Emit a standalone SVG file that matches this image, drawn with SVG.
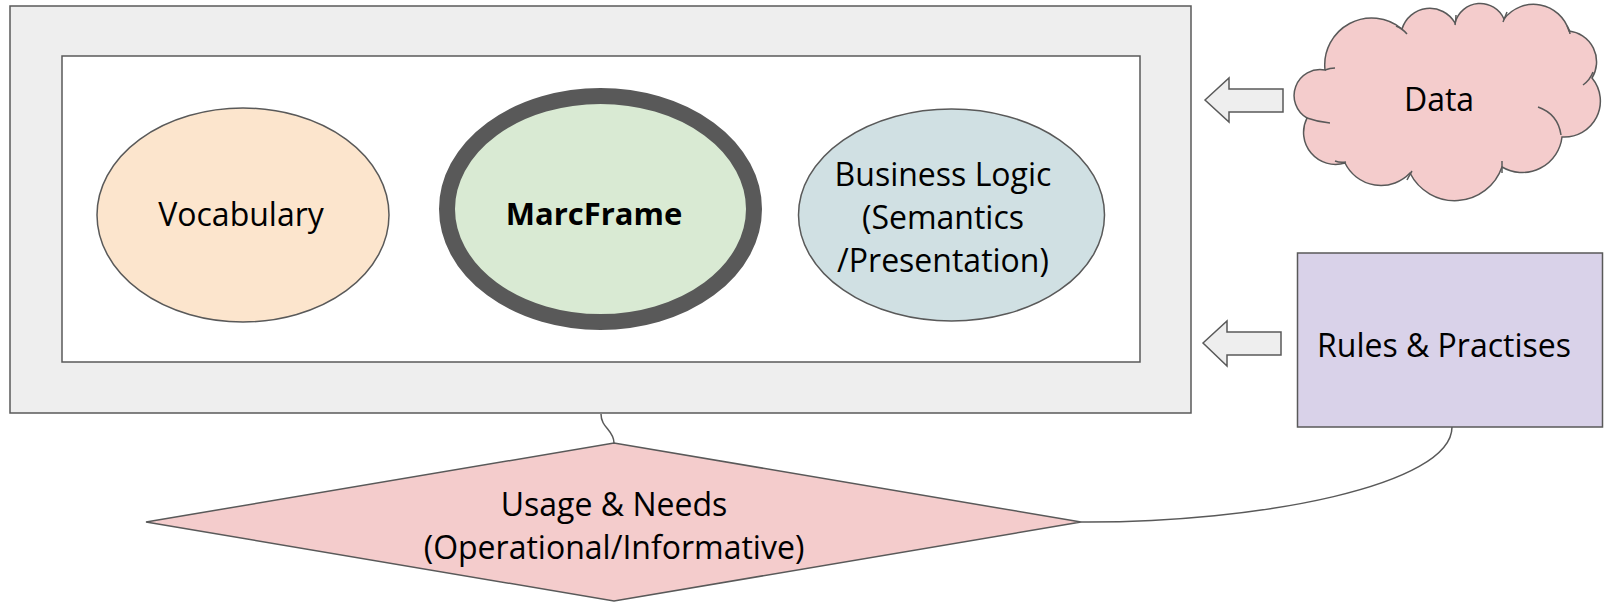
<svg xmlns="http://www.w3.org/2000/svg" width="1604" height="603" viewBox="0 0 1604 603">
<style>
.t{font-family:"Open Sans","Noto Sans","Liberation Sans",sans-serif;font-size:32px;fill:#000;text-anchor:middle}
.b{font-weight:bold;font-size:31px}
.s{stroke:#595959;stroke-width:1.5}
.c{fill:none;stroke:#595959;stroke-width:1.5}
</style>
<rect width="1604" height="603" fill="#fff"/>
<g id="frame">
<rect class="s" x="10" y="6" width="1181" height="407" fill="#eeeeee" stroke-width="2"/>
<rect class="s" x="62" y="56" width="1078" height="306" fill="#ffffff"/>
</g>
<g id="vocabulary">
<ellipse class="s" cx="243" cy="215" rx="146" ry="107" fill="#fce5cd"/>
<text class="t" x="241" y="226">Vocabulary</text>
</g>
<g id="marcframe">
<ellipse cx="600.5" cy="209" rx="153.5" ry="113" fill="#d9ead3" stroke="#595959" stroke-width="16"/>
<text class="t b" x="594" y="225">MarcFrame</text>
</g>
<g id="business">
<ellipse class="s" cx="951.5" cy="215" rx="153" ry="106" fill="#d0e0e3"/>
<text class="t" x="943" y="186">Business Logic</text>
<text class="t" x="943" y="229">(Semantics</text>
<text class="t" x="943" y="272">/Presentation)</text>
</g>
<g id="data">
<path class="s" fill="#f4cccc" d="M1325,70 A47,47 0 0 1 1402,29 A29,29 0 0 1 1455,23 A26,26 0 0 1 1504,19 A37,37 0 0 1 1569,31 A31,31 0 0 1 1592,78 A36,36 0 0 1 1562,137 A40,40 0 0 1 1502,167 A50,50 0 0 1 1410,173 A40,40 0 0 1 1345,163 A32,32 0 0 1 1307,118 A26,26 0 0 1 1325,70 Z"/>
<path class="c" d="M1396,26 Q1403,29 1407,34 M1456,15 Q1456,20 1455,25 M1507,12 Q1505,17 1503,22 M1567,26 Q1570,30 1570,34 M1593,72 Q1590,80 1583,85 M1538,107 Q1558,114 1561,135 M1502,173 Q1502,167 1502,161 M1407,180 Q1409,176 1412,171 M1335,161 Q1340,163 1346,162 M1307,118 Q1318,122 1330,123 M1335,68 Q1330,68 1325,70"/>
<text class="t" x="1439" y="111">Data</text>
</g>
<g id="rules">
<rect class="s" x="1297.5" y="253" width="305" height="174" fill="#d9d2e9"/>
<text class="t" x="1444" y="357">Rules &amp; Practises</text>
</g>
<g id="usage">
<polygon class="s" points="146,522 614,443 1081,522 614,601" fill="#f4cccc"/>
<text class="t" x="614" y="516">Usage &amp; Needs</text>
<text class="t" x="614" y="559">(Operational/Informative)</text>
</g>
<g id="connectors">
<polygon class="s" fill="#eeeeee" points="1205,100 1229,78 1229,89 1283,89 1283,112 1229,112 1229,122"/>
<polygon class="s" fill="#eeeeee" points="1203,343 1227,321 1227,332 1281,332 1281,355 1227,355 1227,366"/>
<path class="c" d="M601,414 C601,428 614,430 614,443"/>
<path class="c" d="M1452,427 C1452,485 1260,523 1081,522"/>
</g>
</svg>
